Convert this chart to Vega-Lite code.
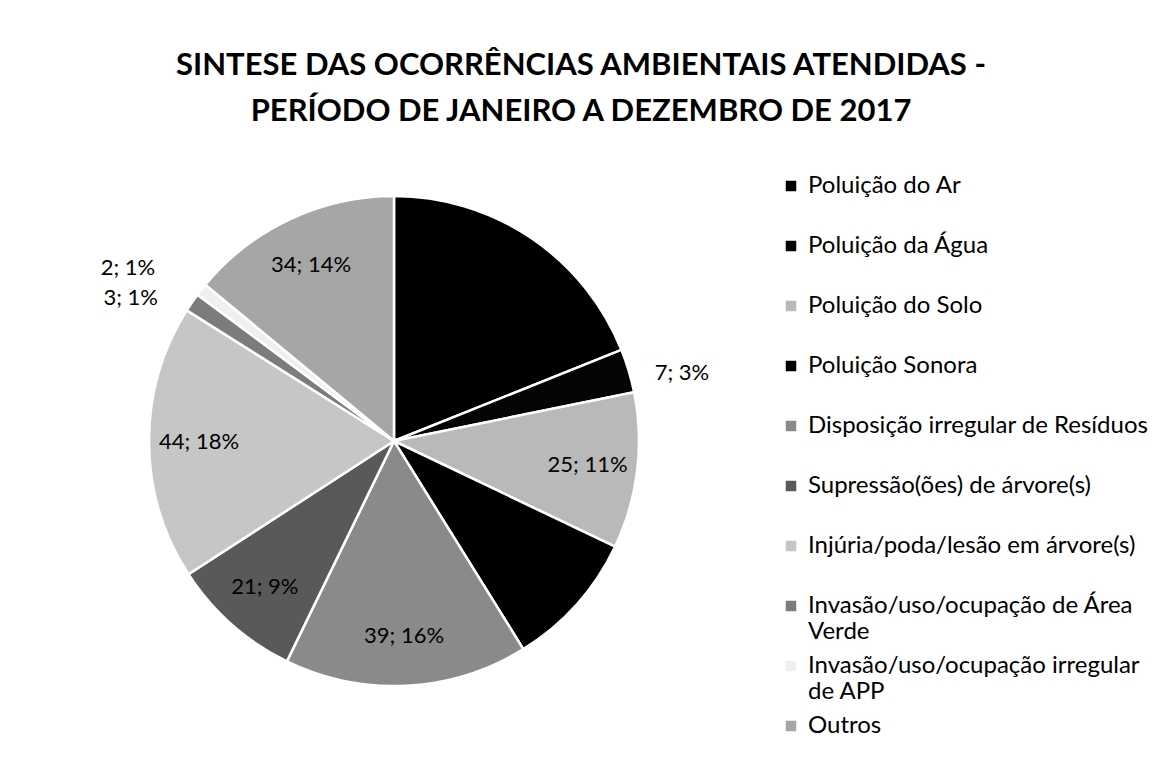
{
  "$schema": "https://vega.github.io/schema/vega-lite/v6.json",
  "autosize": "none",
  "width": 490,
  "height": 490,
  "padding": {"left": 149, "top": 196, "right": 531, "bottom": 81},
  "background": "white",
  "config": {"view": {"stroke": null}, "font": "Lato"},
  "title": {
    "text": ["SINTESE DAS OCORRÊNCIAS AMBIENTAIS ATENDIDAS -", "PERÍODO DE JANEIRO A DEZEMBRO DE 2017"],
    "font": "Lato",
    "fontSize": 31,
    "fontWeight": "bold",
    "color": "#000000",
    "lineHeight": 46,
    "anchor": "middle",
    "frame": "group",
    "dx": 187,
    "offset": 46
  },
  "data": {
    "values": [
      {"idx": 1, "categoria": "Poluição do Ar", "value": 46, "pct": 19},
      {"idx": 2, "categoria": "Poluição da Água", "value": 7, "pct": 3},
      {"idx": 3, "categoria": "Poluição do Solo", "value": 25, "pct": 11},
      {"idx": 4, "categoria": "Poluição Sonora", "value": 22, "pct": 9},
      {"idx": 5, "categoria": "Disposição irregular de Resíduos", "value": 39, "pct": 16},
      {"idx": 6, "categoria": "Supressão(ões) de árvore(s)", "value": 21, "pct": 9},
      {"idx": 7, "categoria": "Injúria/poda/lesão em árvore(s)", "value": 44, "pct": 18},
      {"idx": 8, "categoria": "Invasão/uso/ocupação de Área Verde", "value": 3, "pct": 1},
      {"idx": 9, "categoria": "Invasão/uso/ocupação irregular de APP", "value": 2, "pct": 1},
      {"idx": 10, "categoria": "Outros", "value": 34, "pct": 14}
    ]
  },
  "transform": [
    {"calculate": "datum.value + '; ' + datum.pct + '%'", "as": "rotulo"}
  ],
  "encoding": {
    "theta": {"field": "value", "type": "quantitative", "stack": true},
    "order": {"field": "idx", "type": "quantitative"}
  },
  "layer": [
    {
      "mark": {"type": "arc", "stroke": "white", "strokeWidth": 2.5},
      "encoding": {
        "color": {
          "field": "categoria",
          "type": "nominal",
          "scale": {
            "domain": ["Poluição do Ar", "Poluição da Água", "Poluição do Solo", "Poluição Sonora", "Disposição irregular de Resíduos", "Supressão(ões) de árvore(s)", "Injúria/poda/lesão em árvore(s)", "Invasão/uso/ocupação de Área Verde", "Invasão/uso/ocupação irregular de APP", "Outros"],
            "range": ["#000000", "#050505", "#b9b9b9", "#000000", "#8a8a8a", "#595959", "#c6c6c6", "#7c7c7c", "#efefef", "#a6a6a6"]
          },
          "legend": {
            "title": null,
            "orient": "none",
            "legendX": 630,
            "legendY": -22,
            "padding": 0,
            "gridAlign": "all",
            "symbolType": "square",
            "symbolSize": 110,
            "symbolStrokeWidth": 0,
            "labelFont": "Lato",
            "labelFontSize": 24,
            "labelColor": "#000000",
            "labelOffset": 5,
            "labelLimit": 500,
            "rowPadding": 10,
            "labelExpr": "datum.label == 'Invasão/uso/ocupação de Área Verde' ? ['Invasão/uso/ocupação de Área', 'Verde'] : datum.label == 'Invasão/uso/ocupação irregular de APP' ? ['Invasão/uso/ocupação irregular', 'de APP'] : datum.label"
          }
        }
      }
    },
    {
      "mark": {"type": "text", "radius": 195, "font": "Lato", "fontSize": 22, "color": "#000000"},
      "encoding": {
        "text": {"condition": {"test": "datum.value >= 10", "field": "rotulo"}, "value": ""}
      }
    },
    {
      "mark": {"type": "text", "radius": 270, "font": "Lato", "fontSize": 22, "color": "#000000", "align": "left", "dx": 2, "dy": 9},
      "encoding": {
        "text": {"condition": {"test": "datum.value >= 5 && datum.value < 10", "field": "rotulo"}, "value": ""}
      }
    },
    {
      "mark": {"type": "text", "radius": 268, "font": "Lato", "fontSize": 22, "color": "#000000", "align": "right", "dx": -15, "dy": 9},
      "encoding": {
        "text": {"condition": {"test": "datum.value == 3", "field": "rotulo"}, "value": ""}
      }
    },
    {
      "mark": {"type": "text", "radius": 268, "font": "Lato", "fontSize": 22, "color": "#000000", "align": "right", "dx": -28, "dy": -7},
      "encoding": {
        "text": {"condition": {"test": "datum.value == 2", "field": "rotulo"}, "value": ""}
      }
    }
  ]
}
